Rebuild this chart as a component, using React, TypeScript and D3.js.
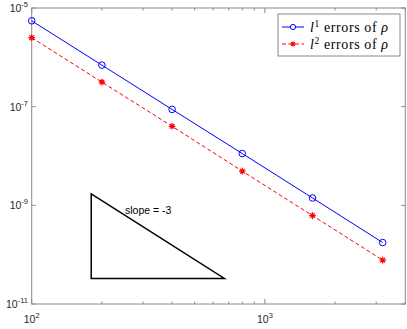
import React from "react";
import * as d3 from "d3";

const nValues = [100, 200, 400, 800, 1600, 3200];
const l1Errors = [5.5e-6, 6.95e-7, 8.8e-8, 1.12e-8, 1.41e-9, 1.76e-10];
const l2Errors = [2.5e-6, 3.15e-7, 4.0e-8, 4.93e-9, 6.19e-10, 7.74e-11];
const xDomain = [100, 4000];
const yDomain = [1e-11, 1e-5];
const xTickExps = [2, 3];
const yTickExps = [-5, -7, -9, -11];
const xMinorTicks = [200, 300, 400, 500, 600, 700, 800, 900, 2000, 3000, 4000];
const triangleX = [180, 670];
const triangleYBottom = 3.3e-11;
const slope = -3;

const W = 407, H = 329;
const L = 31.7, R = 405.3, T = 8, B = 304;

export default function App() {
  const x = d3.scaleLog().domain(xDomain).range([L, R]);
  const y = d3.scaleLog().domain(yDomain).range([B, T]);
  const line = d3.line<number>().x((_, i) => x(nValues[i])).y(d => y(d));
  const axisColor = "#8a8a8a";
  const textColor = "#262626";
  const sans = "'Liberation Sans', Arial, sans-serif";
  const serif = "'Liberation Serif', 'DejaVu Serif', serif";

  const triTop = triangleYBottom * Math.pow(triangleX[1] / triangleX[0], -slope);
  const triPath = `M${x(triangleX[0])},${y(triTop)}L${x(triangleX[0])},${y(triangleYBottom)}L${x(triangleX[1])},${y(triangleYBottom)}Z`;

  const star = (cx: number, cy: number, r: number) => {
    let d = "";
    for (let k = 0; k < 4; k++) {
      const a = (k * Math.PI) / 4;
      const dx = r * Math.cos(a), dy = r * Math.sin(a);
      d += `M${cx - dx},${cy - dy}L${cx + dx},${cy + dy}`;
    }
    return d;
  };

  const tickLen = 4;
  const legX = 278, legY = 14, legW = 122, legH = 42;

  return (
    <svg width={W} height={H} style={{ position: "absolute", left: 0, top: 0 }}>
      <rect x={0} y={0} width={W} height={H} fill="#fff" />
      {xTickExps.map(e => {
        const px = x(Math.pow(10, e));
        return (
          <g key={"xt" + e}>
            <line x1={px} x2={px} y1={B} y2={B - 5} stroke={axisColor} />
            <line x1={px} x2={px} y1={T} y2={T + 5} stroke={axisColor} />
            <text x={px} y={323} textAnchor="middle" fontFamily={sans} fontSize={10.5} fill={textColor}>
              10<tspan dy={-5} fontSize={7.5}>{e}</tspan>
            </text>
          </g>
        );
      })}
      {xMinorTicks.map(v => (
        <g key={"xm" + v}>
          <line x1={x(v)} x2={x(v)} y1={B} y2={B - 2.5} stroke={axisColor} />
          <line x1={x(v)} x2={x(v)} y1={T} y2={T + 2.5} stroke={axisColor} />
        </g>
      ))}
      {yTickExps.map(e => {
        const py = y(Math.pow(10, e));
        return (
          <g key={"yt" + e}>
            <line x1={L} x2={L + tickLen} y1={py} y2={py} stroke={axisColor} />
            <line x1={R} x2={R - tickLen} y1={py} y2={py} stroke={axisColor} />
            <text x={28} y={py + 4} textAnchor="end" fontFamily={sans} fontSize={10.5} fill={textColor}>
              10<tspan dy={-5} fontSize={7.5}>{e}</tspan>
            </text>
          </g>
        );
      })}
      <rect x={L} y={T} width={R - L} height={B - T} fill="none" stroke={axisColor} />

      <path d={triPath} fill="none" stroke="#000" strokeWidth={1.5} />
      <text x={125} y={214} fontFamily={sans} fontSize={10.5} fill="#000">slope = {slope}</text>

      <path d={line(l1Errors) || ""} fill="none" stroke="#0000ff" strokeWidth={1} />
      {l1Errors.map((v, i) => (
        <circle key={"c" + i} cx={x(nValues[i])} cy={y(v)} r={3.3} fill="none" stroke="#0000ff" strokeWidth={1} />
      ))}
      <path d={line(l2Errors) || ""} fill="none" stroke="#ff0000" strokeWidth={1} strokeDasharray="4,2.5" />
      {l2Errors.map((v, i) => (
        <path key={"s" + i} d={star(x(nValues[i]), y(v), 3.3)} stroke="#ff0000" strokeWidth={1.2} fill="none" />
      ))}

      <rect x={legX} y={legY} width={legW} height={legH} fill="#fff" stroke={axisColor} />
      <line x1={legX + 4} x2={legX + 26} y1={legY + 13} y2={legY + 13} stroke="#0000ff" />
      <circle cx={legX + 15} cy={legY + 13} r={2.6} fill="#fff" stroke="#0000ff" />
      <line x1={legX + 4} x2={legX + 26} y1={legY + 30} y2={legY + 30} stroke="#ff0000" strokeDasharray="4,2.5" />
      <path d={star(legX + 15, legY + 30, 2.6)} stroke="#ff0000" strokeWidth={1.2} />
      {["1", "2"].map((p, i) => (
        <text key={"lt" + p} x={legX + 32} y={legY + 18 + i * 17} fontFamily={serif} fontSize={14} letterSpacing={0.6} fill="#000">
          <tspan fontStyle="italic">l</tspan>
          <tspan dy={-5.5} fontSize={9.5}>{p}</tspan>
          <tspan dy={5.5}> errors of </tspan>
          <tspan fontStyle="italic">ρ</tspan>
        </text>
      ))}
    </svg>
  );
}
